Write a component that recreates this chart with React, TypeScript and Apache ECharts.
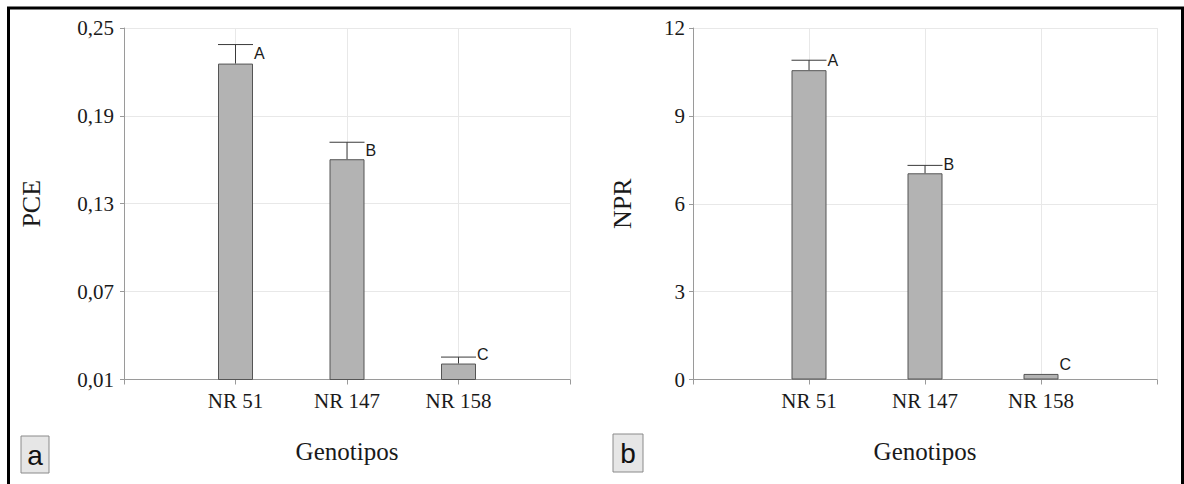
import React, { useEffect, useRef } from 'react';
import * as echarts from 'echarts';

// ---------- data ----------
const categories = ['NR 51', 'NR 147', 'NR 158'];
const pceMeans = [0.2257, 0.1604, 0.0209];
const pceErrors = [0.013, 0.0116, 0.0044];
const nprMeans = [10.56, 7.04, 0.19];
const nprErrors = [0.34, 0.27, 0];
const groupLetters = ['A', 'B', 'C'];
const pceTicks = [0.01, 0.07, 0.13, 0.19, 0.25];
const nprTicks = [0, 3, 6, 9, 12];
const axisCategories = ['', ...categories, ''];

const SERIF = '"Liberation Serif", "Times New Roman", serif';
const SANS = '"Liberation Sans", Arial, sans-serif';
const AXIS_GRAY = '#9a9a9a';
const GRID_GRAY = '#e8e8e8';
const BAR_W = 35;

function xAxisFor(gridIndex: number) {
  return {
    type: 'category',
    gridIndex,
    data: axisCategories,
    boundaryGap: false,
    axisLine: { show: true, lineStyle: { color: AXIS_GRAY, width: 1 } },
    axisTick: { show: true, length: 5, lineStyle: { color: AXIS_GRAY } },
    axisLabel: { interval: 0, margin: 11, fontFamily: SERIF, fontSize: 21, color: '#1a1a1a' },
    splitLine: { show: true, interval: 0, lineStyle: { color: GRID_GRAY, width: 1 } },
    name: 'Genotipos',
    nameLocation: 'middle',
    nameGap: 59,
    nameTextStyle: { fontFamily: SERIF, fontSize: 25, color: '#1a1a1a' },
  };
}

function barSeries(means: number[], idx: number) {
  return {
    type: 'bar',
    xAxisIndex: idx,
    yAxisIndex: idx,
    barWidth: BAR_W,
    data: means.map((v, i) => [i + 1, v]),
    itemStyle: { color: '#b3b3b3', borderColor: '#555555', borderWidth: 1 },
    silent: true,
  };
}

function errorSeries(means: number[], errs: number[], idx: number, letterOffset: number) {
  return {
    type: 'custom',
    xAxisIndex: idx,
    yAxisIndex: idx,
    data: means.map((v, i) => [i + 1, v, errs[i]]),
    encode: { x: 0, y: 1 },
    silent: true,
    renderItem: (params: any, api: any) => {
      const x = api.value(0);
      const v = api.value(1);
      const e = api.value(2);
      const top = api.coord([x, v]);
      const cap = api.coord([x, v + e]);
      const half = BAR_W / 2;
      const children: any[] = [];
      if (e > 0) {
        children.push({
          type: 'line',
          shape: { x1: top[0], y1: top[1], x2: cap[0], y2: cap[1] },
          style: { stroke: '#3a3a3a', lineWidth: 1 },
        });
        children.push({
          type: 'line',
          shape: { x1: cap[0] - half, y1: cap[1], x2: cap[0] + half, y2: cap[1] },
          style: { stroke: '#3a3a3a', lineWidth: 1 },
        });
      }
      const ly = Math.min(cap[1] + letterOffset, top[1] - 9);
      children.push({
        type: 'text',
        x: cap[0] + half + 1,
        y: ly,
        style: {
          text: groupLetters[params.dataIndex],
          fill: '#1a1a1a',
          font: `16px ${SANS}`,
          align: 'left',
          verticalAlign: 'middle',
          textAlign: 'left',
          textVerticalAlign: 'middle',
        },
      });
      return { type: 'group', children };
    },
  };
}

export default function App() {
  const ref = useRef<HTMLDivElement>(null);
  useEffect(() => {
    if (!ref.current) return;
    const chart = echarts.init(ref.current, null, { renderer: 'svg' });
    const option: any = {
      animation: false,
      backgroundColor: '#ffffff',
      grid: [
        { left: 124, top: 28, width: 446, height: 351.5, outerBoundsMode: 'none' },
        { left: 693, top: 28, width: 464, height: 351.5, outerBoundsMode: 'none' },
      ],
      xAxis: [xAxisFor(0), xAxisFor(1)],
      yAxis: [
        {
          type: 'value',
          gridIndex: 0,
          min: 0.01,
          max: 0.25,
          axisLine: { show: true, lineStyle: { color: AXIS_GRAY, width: 1 } },
          axisTick: { show: true, length: 4, customValues: pceTicks, lineStyle: { color: AXIS_GRAY } },
          axisLabel: {
            customValues: pceTicks,
            formatter: (v: number) => Number(v).toFixed(2).replace('.', ','),
            margin: 10,
            fontFamily: SERIF,
            fontSize: 21,
            color: '#1a1a1a',
          },
          splitLine: { show: true, customValues: pceTicks, lineStyle: { color: GRID_GRAY } },
          name: 'PCE',
          nameLocation: 'middle',
          nameRotate: 90,
          nameGap: 80,
          nameTextStyle: { fontFamily: SERIF, fontSize: 26, color: '#1a1a1a' },
        },
        {
          type: 'value',
          gridIndex: 1,
          min: 0,
          max: 12,
          interval: 3,
          axisLine: { show: true, lineStyle: { color: AXIS_GRAY, width: 1 } },
          axisTick: { show: true, length: 4, lineStyle: { color: AXIS_GRAY } },
          axisLabel: { margin: 8, fontFamily: SERIF, fontSize: 21, color: '#1a1a1a' },
          splitLine: { show: true, lineStyle: { color: GRID_GRAY } },
          name: 'NPR',
          nameLocation: 'middle',
          nameRotate: 90,
          nameGap: 58,
          nameTextStyle: { fontFamily: SERIF, fontSize: 26, color: '#1a1a1a' },
        },
      ],
      series: [
        barSeries(pceMeans, 0),
        errorSeries(pceMeans, pceErrors, 0, 8.5),
        barSeries(nprMeans, 1),
        errorSeries(nprMeans, nprErrors, 1, 0),
      ],
      graphic: [
        {
          type: 'rect',
          shape: { x: 8.5, y: 8, width: 1174, height: 520 },
          style: { fill: 'none', stroke: '#000000', lineWidth: 3 },
          silent: true,
        },
        {
          type: 'rect',
          shape: { x: 21, y: 436, width: 28, height: 37 },
          style: { fill: '#e6e6e6', stroke: '#8a8a8a', lineWidth: 1 },
          silent: true,
        },
        {
          type: 'text',
          x: 35,
          y: 455,
          style: { text: 'a', font: `28px ${SANS}`, fill: '#111', align: 'center', verticalAlign: 'middle', textAlign: 'center', textVerticalAlign: 'middle' },
          silent: true,
        },
        {
          type: 'rect',
          shape: { x: 613, y: 434, width: 30, height: 38 },
          style: { fill: '#e6e6e6', stroke: '#8a8a8a', lineWidth: 1 },
          silent: true,
        },
        {
          type: 'text',
          x: 628,
          y: 453,
          style: { text: 'b', font: `28px ${SANS}`, fill: '#111', align: 'center', verticalAlign: 'middle', textAlign: 'center', textVerticalAlign: 'middle' },
          silent: true,
        },
      ],
    };
    chart.setOption(option);
    return () => chart.dispose();
  }, []);
  return (
    <div
      ref={ref}
      style={{ position: 'fixed', left: 0, top: 0, width: 1184, height: 484, background: '#fff' }}
    />
  );
}
